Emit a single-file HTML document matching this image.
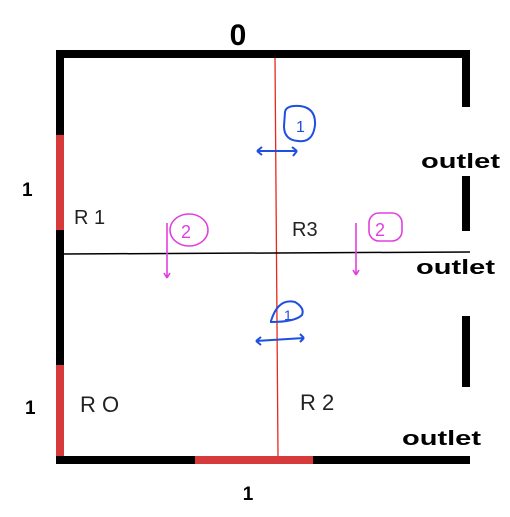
<!DOCTYPE html>
<html><head><meta charset="utf-8"><style>
body{margin:0;background:#fff;width:510px;height:512px;overflow:hidden}
svg text{font-family:"Liberation Sans",sans-serif}
</style></head><body>
<svg width="510" height="512">
<g>
<rect x="56" y="50" width="414" height="8" fill="#000"/>
<rect x="56" y="50" width="8" height="414" fill="#000"/>
<rect x="56" y="135" width="8" height="95" fill="#d63a3a"/>
<rect x="56" y="365" width="8" height="99" fill="#d63a3a"/>
<rect x="56" y="456" width="414" height="8" fill="#000"/>
<rect x="195" y="456" width="118" height="8" fill="#d63a3a"/>
<rect x="462" y="50" width="8" height="57" fill="#000"/>
<rect x="462" y="176" width="8" height="55" fill="#000"/>
<rect x="462" y="316" width="8" height="71" fill="#000"/>
</g>
<line x1="275" y1="58" x2="278" y2="456" stroke="#e8281e" stroke-width="1.3"/>
<line x1="64" y1="254" x2="470" y2="252" stroke="#000" stroke-width="1.5"/>
<text x="238" y="45" font-size="30" font-weight="bold" text-anchor="middle">0</text>
<text x="22" y="196" font-size="19" font-weight="bold">1</text>
<text x="25" y="414" font-size="19" font-weight="bold">1</text>
<text x="248" y="500" font-size="19" font-weight="bold" text-anchor="middle">1</text>
<text x="421" y="168" font-size="20" font-weight="bold" textLength="79" lengthAdjust="spacingAndGlyphs">outlet</text>
<text x="416" y="274" font-size="20" font-weight="bold" textLength="79" lengthAdjust="spacingAndGlyphs">outlet</text>
<text x="402" y="445" font-size="20" font-weight="bold" textLength="79" lengthAdjust="spacingAndGlyphs">outlet</text>
<g fill="none" stroke="#222" stroke-width="1.3">
<text x="74" y="224" font-size="20" fill="#222" stroke="none">R 1</text>
<text x="292" y="236" font-size="20" fill="#222" stroke="none">R3</text>
<text x="80" y="412" font-size="22" fill="#222" stroke="none">R O</text>
<text x="300" y="410" font-size="22" fill="#222" stroke="none">R  2</text>
</g>
<g stroke="#1f4fe0" stroke-width="2" fill="none">
<path d="M285 112 Q286 105 300 106 Q316 108 315 125 Q313 143 298 141 Q284 140 284 126 Z"/>
<text x="296" y="132" font-size="16" fill="#1f4fe0" stroke="none">1</text>
<path d="M257 151 L297 151 M257 151 l5 -4 M257 151 l5 4 M297 151 l-5 -4 M297 151 l-4 5"/>
<path d="M271 321 Q278 298 295 302 Q305 308 302 315 Q295 322 271 322 Z"/>
<text x="284" y="320" font-size="14" fill="#1f4fe0" stroke="none">1</text>
<path d="M256 341 L304 338 M256 341 l5 -4 M256 341 l5 4 M304 338 l-4 -4 M304 338 l-4 4"/>
</g>
<g stroke="#e040e0" stroke-width="1.6" fill="none">
<ellipse cx="189" cy="230" rx="19" ry="16"/>
<text x="181" y="238" font-size="18" fill="#e040e0" stroke="none">2</text>
<path d="M167 223 L167 278 M167 278 l-3 -5 M167 278 l3 -5"/>
<rect x="369" y="213" width="33" height="28" rx="10"/>
<text x="375" y="236" font-size="18" fill="#e040e0" stroke="none">2</text>
<path d="M356 223 L356 275 M356 275 l-3 -5 M356 275 l3 -5"/>
</g>
</svg>
</body></html>
